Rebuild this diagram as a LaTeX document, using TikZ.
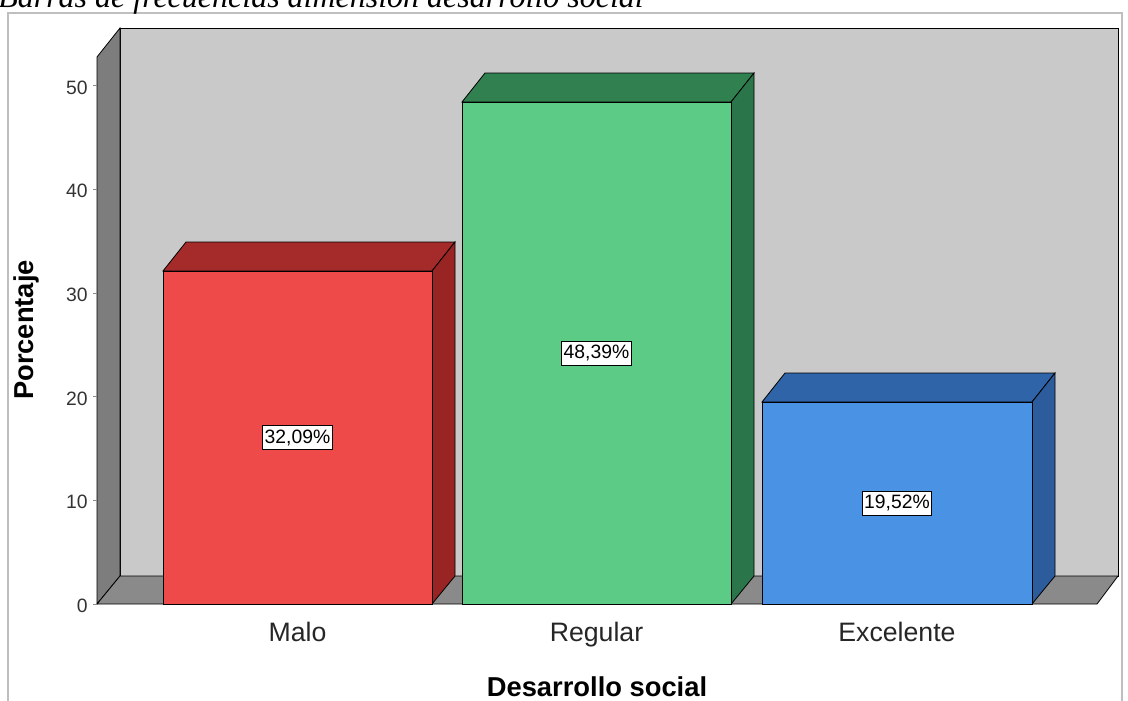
\documentclass[tikz,border=0pt]{standalone}
\usepackage{fontspec}
\setmainfont{Liberation Sans}
\newfontfamily\capfont{Liberation Serif}
\definecolor{wall}{HTML}{C9C9C9}
\definecolor{lwall}{HTML}{7D7D7D}
\definecolor{floor}{HTML}{8A8A8A}
\definecolor{redfront}{HTML}{EF4A4A}
\definecolor{redtop}{HTML}{A52A2A}
\definecolor{redside}{HTML}{982424}
\definecolor{grnfront}{HTML}{5CCB86}
\definecolor{grntop}{HTML}{308050}
\definecolor{grnside}{HTML}{2A764A}
\definecolor{blufront}{HTML}{4A92E4}
\definecolor{blutop}{HTML}{2F64A8}
\definecolor{bluside}{HTML}{2C5C9C}
\begin{document}
\begin{tikzpicture}[x=0.75pt, y=-0.75pt,
    face/.style={draw=black, line width=0.6pt},
    pct/.style={draw=black, fill=white, line width=0.6pt, inner xsep=1.5pt, inner ysep=3pt,
                font=\fontsize{14.5}{16}\selectfont},
    cat/.style={anchor=base, font=\fontsize{20}{24}\selectfont, text=black!85},
    ticklbl/.style={anchor=east, inner sep=0pt, font=\fontsize{14.5}{16}\selectfont, text=black!80},
    axtitle/.style={font=\bfseries\fontsize{20.5}{24}\selectfont}]
  \useasboundingbox (0,0) rectangle (1128,700);
  \clip (0,0) rectangle (1128,700);
  \draw [black!25, line width=1.2pt] (8,13) rectangle (1122,720);
  \node (cap) [anchor=base west, inner sep=0pt, font=\capfont\itshape\fontsize{24}{28}\selectfont]
        at (-2,7) {Barras de frecuencias dimensión desarrollo social};
  % walls and floor
  \filldraw [face, fill=wall] (120,28) rectangle (1118,576);
  \filldraw [face, fill=lwall] (97,57) -- (120,28) -- (120,576) -- (97,604) -- cycle;
  \filldraw [face, fill=floor] (97,604) -- (120,576) -- (1118,576) -- (1097,604) -- cycle;
  % bars
  \filldraw [face, fill=redtop] (163,271) -- (186,242) -- (455,242) -- (432,271) -- cycle;
  \filldraw [face, fill=redside] (432,271) -- (455,242) -- (455,576) -- (432,604) -- cycle;
  \filldraw [face, fill=redfront] (163,271) rectangle (432,604) node (pmalo) [pos=.5, pct] {32,09\%};
  \filldraw [face, fill=grntop] (462,102) -- (485,73) -- (754,73) -- (731,102) -- cycle;
  \filldraw [face, fill=grnside] (731,102) -- (754,73) -- (754,576) -- (731,604) -- cycle;
  \filldraw [face, fill=grnfront] (462,102) rectangle (731,604) node (preg) [pos=.5, pct] {48,39\%};
  \filldraw [face, fill=blutop] (762,402) -- (785,373) -- (1055,373) -- (1032,402) -- cycle;
  \filldraw [face, fill=bluside] (1032,402) -- (1055,373) -- (1055,576) -- (1032,604) -- cycle;
  \filldraw [face, fill=blufront] (762,402) rectangle (1032,604) node (pexc) [pos=.5, pct] {19,52\%};
  % axis
  \foreach \v in {0,10,...,50} {
    \node (t\v) [ticklbl] at (88,{606-10.37*\v}) {\v};
    \draw [black!45] (93,{604-10.37*\v}) -- (97,{604-10.37*\v});
  }
  \node (malo) [cat] at (297.5,641) {Malo};
  \node (reg) [cat] at (596.5,641) {Regular};
  \node (exc) [cat] at (897,641) {Excelente};
  \node (xlbl) [axtitle, anchor=base] at (597,696) {Desarrollo social};
  \node (ylbl) [axtitle, anchor=base, rotate=90] at (33,330) {Porcentaje};
\end{tikzpicture}
\end{document}
